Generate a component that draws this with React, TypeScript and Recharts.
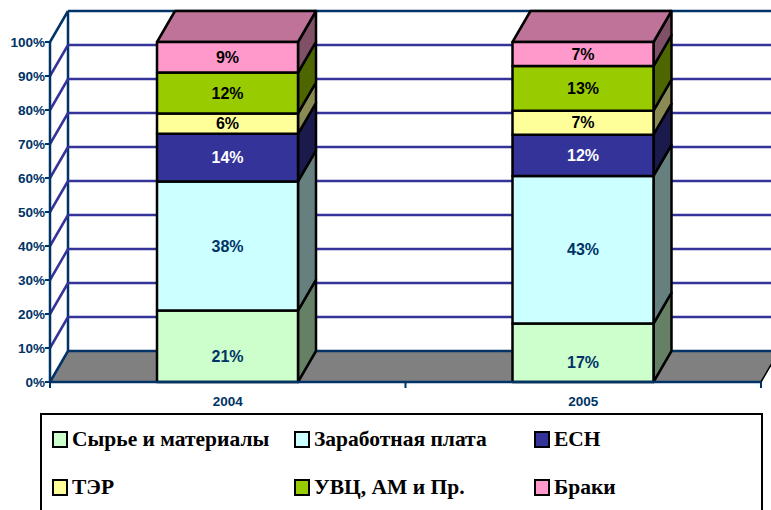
import React from "react";
import { BarChart, Bar, XAxis, YAxis, CartesianGrid, Legend } from "recharts";

// Cost structure by year, percent of total
const years = ["2004", "2005"];
const seriesNames = [
  "Сырье и материалы",
  "Заработная плата",
  "ЕСН",
  "ТЭР",
  "УВЦ, АМ и Пр.",
  "Браки",
];
const materials = [21, 17];
const wages = [38, 43];
const esn = [14, 12];
const ter = [6, 7];
const uvc = [12, 13];
const marriages = [9, 7];
const seriesValues = [materials, wages, esn, ter, uvc, marriages];
const yTicks = [0, 0.1, 0.2, 0.3, 0.4, 0.5, 0.6, 0.7, 0.8, 0.9, 1];

const frontFills = ["#CCFFCC", "#CCFFFF", "#333399", "#FFFF99", "#99CC00", "#FF99CC"];
const sideFills = ["#668066", "#668080", "#1A1A4D", "#8A8A55", "#4D6600", "#805066"];
const labelFills = ["#003366", "#003366", "#FFFFFF", "#000000", "#000000", "#000000"];
const labelShift = [10, 0, 0, 0, 0, 0];
const topFill = "#BF7399";

const NAVY = "#003366";
const GRID = "#333399";
const DEPTH_X = 18;
const DEPTH_Y = 31;

const rows = years.map((year, i) => {
  const row: Record<string, string | number> = { year };
  seriesNames.forEach((name, s) => {
    row[name] = seriesValues[s][i];
  });
  return row;
});

// One wall line of the box: front edge up to the back wall, then across it.
// The bottom and top lines also carry the floor and the back wall's edges.
function WallLine(props: any) {
  const { x1, y1, x2, y, height, key: lineKey } = props;
  const isFloor = Math.abs(y1 - (y + height)) < 1;
  const isTop = Math.abs(y1 - y) < 1;
  const color = isFloor || isTop ? NAVY : GRID;
  const bx = x1 + DEPTH_X;
  const by = y1 - DEPTH_Y;
  const mid = (x1 + x2) / 2;
  return (
    <g key={lineKey}>
      {isFloor && (
        <>
          <polygon
            points={`${x1},${y1} ${bx},${by} ${x2 + DEPTH_X},${by} ${x2},${y1}`}
            fill="#808080"
          />
          <line x1={x2} y1={y1} x2={x2 + DEPTH_X} y2={by} stroke="#000000" strokeWidth={1.5} />
          <line x1={bx} y1={by} x2={bx} y2={y - DEPTH_Y} stroke={NAVY} strokeWidth={2.5} />
          {[x1, mid, x2].map((tx) => (
            <line key={tx} x1={tx} y1={y1} x2={tx} y2={y1 + 6} stroke={NAVY} strokeWidth={2} />
          ))}
        </>
      )}
      <line x1={x1} y1={y1} x2={bx} y2={by} stroke={color} strokeWidth={2.5} />
      <line x1={bx} y1={by} x2={x2 + DEPTH_X} y2={by} stroke={color} strokeWidth={2.5} />
    </g>
  );
}

// A stacked segment with its side face, label and, for the last series, the top face.
function Segment(props: any) {
  const { x, y, width, height, payload, seriesIndex: s } = props;
  const right = x + width;
  const last = s === seriesNames.length - 1;
  return (
    <g stroke="#000000" strokeWidth={2.5} strokeLinejoin="round">
      <polygon
        points={`${right},${y} ${right + DEPTH_X},${y - DEPTH_Y} ${right + DEPTH_X},${y + height - DEPTH_Y} ${right},${y + height}`}
        fill={sideFills[s]}
      />
      {last && (
        <polygon
          points={`${x},${y} ${x + DEPTH_X},${y - DEPTH_Y} ${right + DEPTH_X},${y - DEPTH_Y} ${right},${y}`}
          fill={topFill}
        />
      )}
      <rect x={x} y={y} width={width} height={height} fill={frontFills[s]} />
      <text
        x={x + width / 2}
        y={y + height / 2 + labelShift[s]}
        textAnchor="middle"
        dominantBaseline="central"
        fontFamily="'Liberation Sans', Arial, sans-serif"
        fontWeight="bold"
        fontSize={16}
        fill={labelFills[s]}
        stroke="none"
      >
        {`${payload[seriesNames[s]]}%`}
      </text>
    </g>
  );
}

const legendColumns = [12, 254, 494];
const legendRows = [15, 63];

function LegendBox({ payload }: any) {
  return (
    <div
      style={{
        position: "relative",
        width: 723,
        height: 110,
        boxSizing: "border-box",
        border: "2.5px solid #000000",
        background: "#FFFFFF",
      }}
    >
      {(payload || []).map((entry: any, i: number) => (
        <div
          key={entry.value}
          style={{
            position: "absolute",
            left: legendColumns[i % 3] - 2,
            top: legendRows[Math.floor(i / 3)],
            height: 18,
            display: "flex",
            alignItems: "center",
            whiteSpace: "nowrap",
          }}
        >
          <span
            style={{
              display: "inline-block",
              boxSizing: "border-box",
              width: 16,
              height: 17,
              border: "2.5px solid #000000",
              background: entry.color,
              marginRight: 4,
            }}
          />
          <span
            style={{
              fontFamily: "'Liberation Serif', 'Times New Roman', serif",
              fontWeight: "bold",
              fontSize: 21.5,
              color: "#000000",
            }}
          >
            {entry.value}
          </span>
        </div>
      ))}
    </div>
  );
}

const axisFont = {
  fontFamily: "'Liberation Sans', Arial, sans-serif",
  fontWeight: "bold",
  fontSize: 13.5,
  fill: NAVY,
};

export default function App() {
  return (
    <div
      style={{
        position: "absolute",
        left: 0,
        top: 0,
        width: 771,
        height: 510,
        overflow: "hidden",
        background: "#FFFFFF",
      }}
    >
      <BarChart
        width={771}
        height={510}
        data={rows}
        stackOffset="expand"
        barSize={141}
        margin={{ top: 42, right: 10, bottom: 98, left: 0 }}
      >
        <CartesianGrid vertical={false} horizontal={WallLine} syncWithTicks />
        <XAxis
          dataKey="year"
          interval={0}
          height={30}
          tickLine={false}
          tickMargin={8}
          axisLine={{ stroke: NAVY, strokeWidth: 2.5 }}
          tick={axisFont}
        />
        <YAxis
          width={50}
          domain={[0, 1]}
          ticks={yTicks}
          interval={0}
          tickSize={5}
          tickMargin={0}
          tickFormatter={(v: number) => `${Math.round(v * 100)}%`}
          axisLine={{ stroke: NAVY, strokeWidth: 2.5 }}
          tickLine={{ stroke: NAVY, strokeWidth: 2 }}
          tick={axisFont}
        />
        {seriesNames.map((name, s) => (
          <Bar
            key={name}
            dataKey={name}
            name={name}
            stackId="costs"
            fill={frontFills[s]}
            isAnimationActive={false}
            shape={(p: any) => <Segment {...p} seriesIndex={s} />}
          />
        ))}
        <Legend
          layout="horizontal"
          align="center"
          verticalAlign="middle"
          itemSorter={null}
          wrapperStyle={{ left: 40, top: 413, width: 723, height: 110 }}
          content={(p: any) => <LegendBox payload={p.payload} />}
        />
      </BarChart>
    </div>
  );
}
